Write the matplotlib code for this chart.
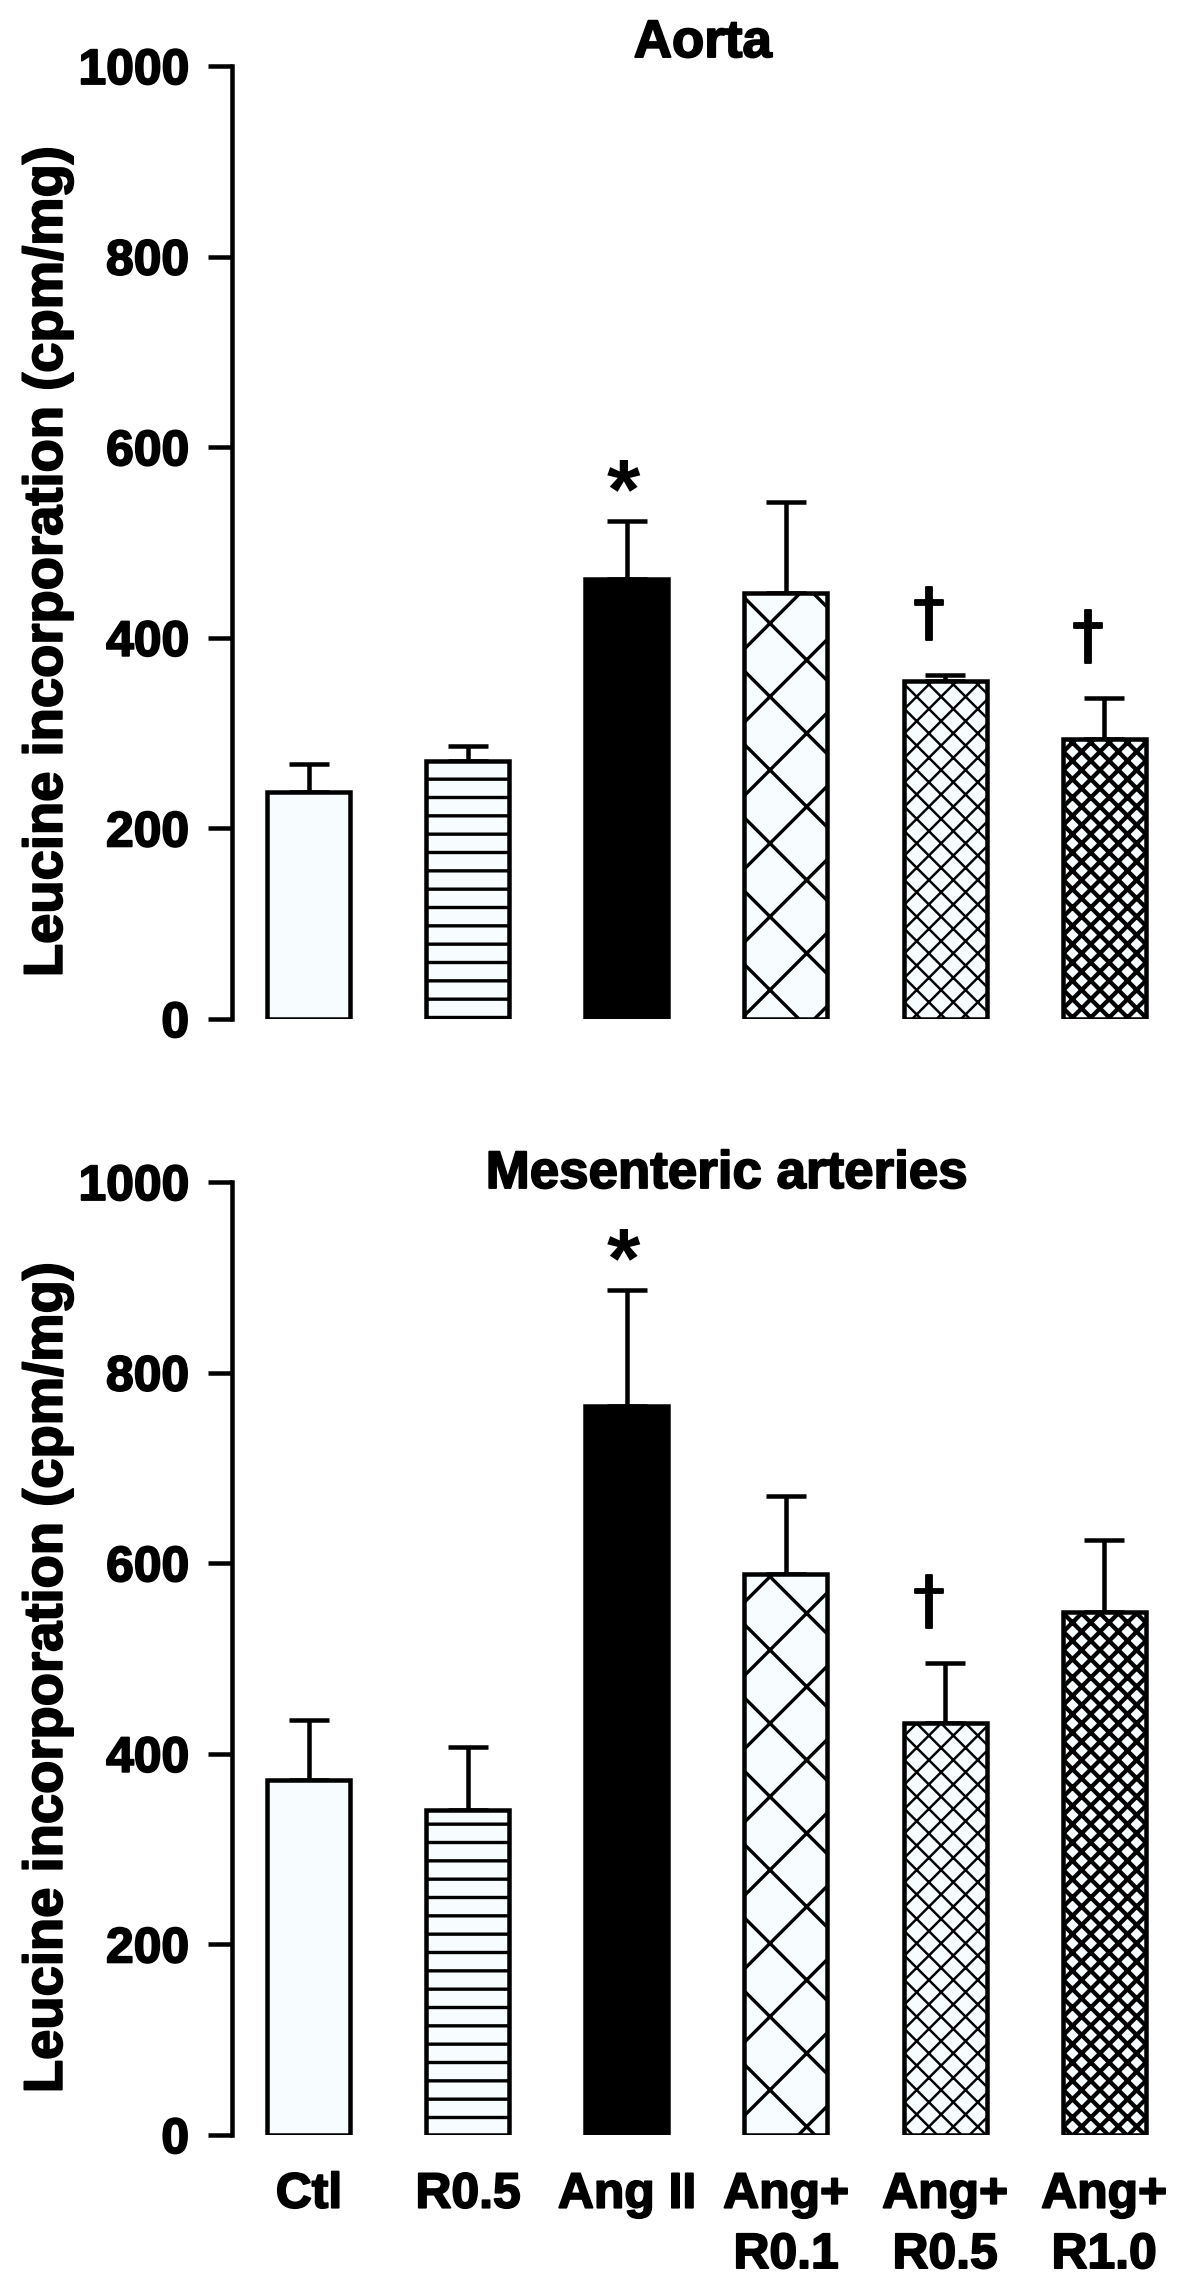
import matplotlib
matplotlib.use('Agg')
import matplotlib.pyplot as plt
import matplotlib.patheffects as pe

# data (mean and upper SEM)
groups = ['Ctl', 'R0.5', 'Ang II', 'Ang+\nR0.1', 'Ang+\nR0.5', 'Ang+\nR1.0']
aorta_mean = [238, 271, 462, 447, 355, 294]
aorta_sem = [30, 15, 61, 95, 6, 43]
aorta_marks = ['', '', '*', '', '\u2020', '\u2020']
mes_mean = [373, 341, 765, 589, 432, 549]
mes_sem = [62, 66, 122, 81, 63, 75]
mes_marks = ['', '', '*', '', '\u2020', '']
yticks = [0, 200, 400, 600, 800, 1000]

# bar styles
faces = ['#f7fcff', '#f7fcff', 'black', '#f7fcff', '#f7fcff', '#f7fcff']
hatches = [None, '--', None, 'x', 'xxx', 'xxxx']
hatch_lw = [1.0, 1.1, 1.0, 1.1, 0.8, 1.4]

plt.rcParams['font.family'] = ['Liberation Sans', 'DejaVu Sans']
plt.rcParams['font.weight'] = 'bold'

DPI = 220
W, H = 1197, 2292
PT = 72.0 / DPI   # points per pixel

heavy = [pe.withStroke(linewidth=0.6, foreground='black')]

fig = plt.figure(figsize=(W / DPI, H / DPI), dpi=DPI)


def panel(rect, means, sems, marks, title, title_xy, show_x):
    ax = fig.add_axes(rect)
    x = list(range(len(groups)))
    bars = ax.bar(x, means, width=0.522, color=faces, edgecolor='black',
                  linewidth=4.5 * PT, zorder=3)
    for b, h, lw in zip(bars, hatches, hatch_lw):
        if h:
            b.set_hatch(h)
            try:
                b.set_hatch_linewidth(lw)
            except AttributeError:
                pass
    ax.errorbar(x, means, yerr=[[0] * len(sems), sems], fmt='none',
                ecolor='black', elinewidth=4.5 * PT, capsize=20 * PT,
                capthick=4.5 * PT, zorder=2)

    # significance marks above the error bars
    for xi, m, s, mk in zip(x, means, sems, marks):
        if mk == '*':
            ax.text(xi - 0.02, m + s - 16, mk, ha='center', va='bottom',
                    fontsize=28, fontweight='bold')
        elif mk:
            ax.text(xi - 0.1, m + s + 62, mk, ha='center', va='center',
                    fontsize=21, fontweight='normal',
                    family=['DejaVu Sans'], path_effects=heavy)

    ax.set_xlim(-0.484, 5.547)
    ax.set_ylim(0, 1000)
    ax.set_yticks(yticks)
    ax.tick_params(axis='y', length=24 * PT, width=4.5 * PT, pad=19 * PT,
                   labelsize=16.3, direction='out')
    for lab in ax.get_yticklabels():
        lab.set_path_effects(heavy)
    for s in ['top', 'right', 'bottom']:
        ax.spines[s].set_visible(False)
    ax.spines['left'].set_linewidth(4.5 * PT)

    if show_x:
        ax.set_xticks(x)
        ax.set_xticklabels(groups, fontsize=16.3, fontweight='bold',
                           linespacing=1.4, path_effects=heavy)
        ax.tick_params(axis='x', length=0, pad=12)
    else:
        ax.set_xticks([])

    ax.set_ylabel('Leucine incorporation (cpm/mg)', fontsize=17.8,
                  fontweight='bold', path_effects=heavy)
    ax.yaxis.set_label_coords(-0.166, 0.48)
    ax.text(title_xy[0], title_xy[1], title, transform=ax.transAxes,
            ha='center', va='baseline', fontsize=17.3, fontweight='bold',
            path_effects=heavy)
    return ax


panel([232 / W, 1 - 1019 / H, 959 / W, 953 / H], aorta_mean, aorta_sem,
      aorta_marks, 'Aorta', (0.491, 1.0094), False)
panel([232 / W, 1 - 2135 / H, 959 / W, 953 / H], mes_mean, mes_sem,
      mes_marks, 'Mesenteric arteries', (0.516, 0.9937), True)

fig.savefig('out.png', dpi=DPI, facecolor='white')
